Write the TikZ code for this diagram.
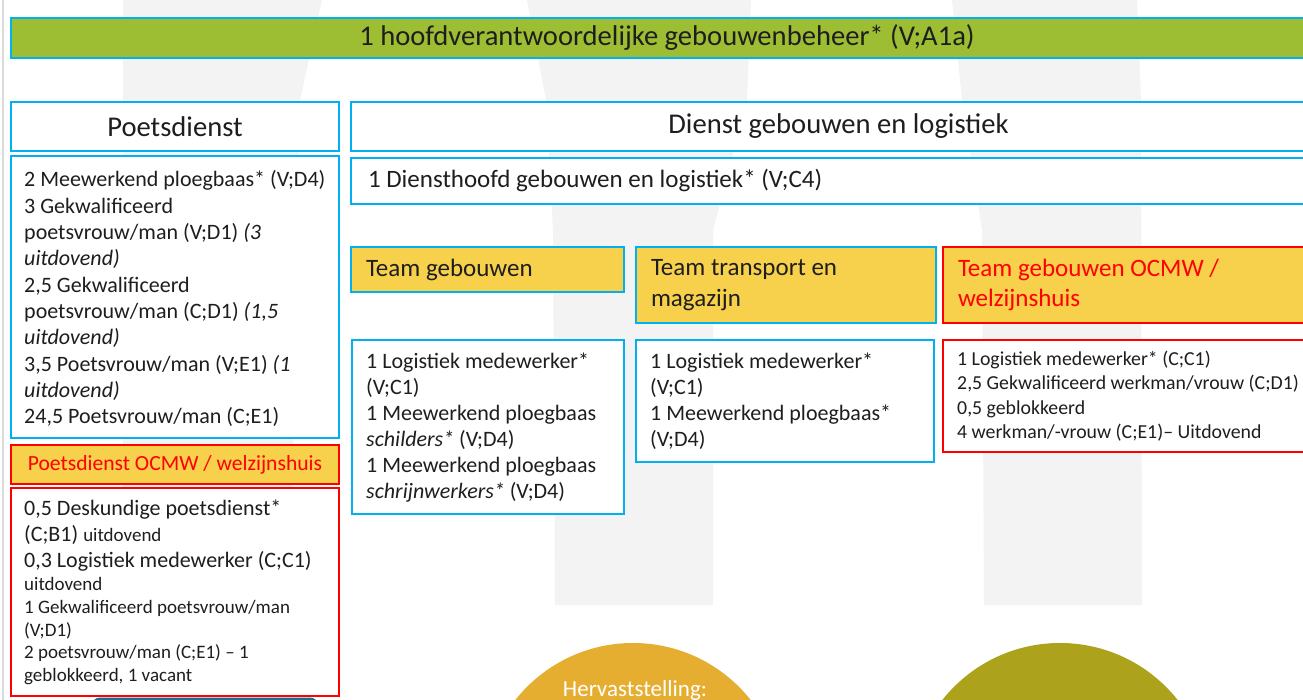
\documentclass[tikz,border=0pt]{standalone}
\usepackage{fontspec}
\setmainfont{Carlito}
\definecolor{cyanb}{HTML}{00B0F0}
\definecolor{barg}{HTML}{9DBD33}
\definecolor{yel}{HTML}{F7D04C}
\definecolor{redb}{HTML}{FF0000}
\definecolor{wm}{HTML}{F3F3F3}
\definecolor{edgeg}{HTML}{DADADA}
\definecolor{orc}{HTML}{E6AE31}
\definecolor{olc}{HTML}{ACA21C}
\definecolor{txt}{HTML}{1E1E1E}
\definecolor{tealb}{HTML}{1D6E8C}
\newcommand{\fsA}{\fontsize{22}{26.3}\selectfont}
\newcommand{\fsS}{\fontsize{19}{22.8}\selectfont}
\newcommand{\fsH}{\fontsize{25}{30.8}\selectfont}
\newcommand{\fsR}{\fontsize{19.8}{24}\selectfont}
\begin{document}
\begin{tikzpicture}[x=1pt,y=-1pt,
  base/.style={line width=2pt,inner sep=0pt,anchor=north west,text=txt},
  cbox/.style={base,draw=cyanb,fill=white},
  rbox/.style={base,draw=redb,fill=white},
  cyhead/.style={base,draw=cyanb,fill=yel},
  ryhead/.style={base,draw=redb,fill=yel,text=redb},
  lefthead/.style={align=flush left,inner xsep=15pt,inner ysep=0pt},
  tx/.style={inner sep=0pt,anchor=base west,align=flush left,text=txt},
  wmark/.style={fill=wm},
  blob/.style={circle,inner sep=0pt,minimum size=300}
]
\useasboundingbox (0,0) rectangle (1303,700);
\clip (0,0) rectangle (1303,700);
\fill[white] (0,0) rectangle (1303,700);
% watermark
\fill[wmark] (123,0) -- (322,0) -- (300,100) -- (290,610) -- (123,610) -- cycle;
\fill[wmark] (527,0) -- (751,0) -- (747,100) -- (713,230) -- (713,605) -- (555,605) -- (553,230) -- (546,100) -- cycle;
\fill[wmark] (952,0) -- (1137,0) -- (1141,100) -- (1142,605) -- (984,605) -- (982,230) -- (962,100) -- cycle;
\draw[edgeg,line width=1.5pt] (3,0) -- (3,700);
% bottom shapes
\fill[tealb,rounded corners=8pt] (92,697.5) rectangle (318,770);
\node[blob,fill=orc] (c1) at (633,793) {};
\node[blob,fill=olc] (c2) at (1060,793) {};
\node[font=\fontsize{23}{27}\selectfont,text=white,inner sep=0pt] (c1t) at (635,690) {Hervaststelling:};
% top bar
\node[base,draw=cyanb,fill=barg,minimum width=1312,minimum height=40,font=\fontsize{28.6}{34}\selectfont] (top) at (10,17) {1 hoofdverantwoordelijke gebouwenbeheer* (V;A1a)};
% left column
\node[cbox,minimum width=328,minimum height=49,font=\fontsize{28.6}{34}\selectfont] (ph) at (10,101) {Poetsdienst};
\node[cbox,minimum width=328,minimum height=282] (pc) at (10,155) {};
\node[tx,text width=312,font=\fsA] (pct) at (24,187) {2 Meewerkend ploegbaas* (V;D4)\\
3 Gekwalificeerd\\
poetsvrouw/man (V;D1) \textit{(3}\\
\textit{uitdovend)}\\
2,5 Gekwalificeerd\\
poetsvrouw/man (C;D1) \textit{(1,5}\\
\textit{uitdovend)}\\
3,5 Poetsvrouw/man (V;E1) \textit{(1}\\
\textit{uitdovend)}\\
24,5 Poetsvrouw/man (C;E1)\par};
\node[ryhead,minimum width=328,minimum height=39,font=\fontsize{21.6}{26}\selectfont] (oh) at (10,444) {Poetsdienst OCMW / welzijnshuis};
\node[rbox,minimum width=328,minimum height=208] (oc) at (10,487) {};
\node[tx,text width=312] (oct) at (24,515) {%
{\fsA 0,5 Deskundige poetsdienst*\par}%
{\fsA (C;B1) {\fsS uitdovend}\par}%
{\fsA 0,3 Logistiek medewerker (C;C1)\par}%
{\fsS uitdovend\par}%
{\fsS 1 Gekwalificeerd poetsvrouw/man\par}%
{\fsS (V;D1)\par}%
{\fsS 2 poetsvrouw/man (C;E1) – 1\par}%
{\fsS geblokkeerd, 1 vacant\par}};
% right part
\node[cbox,minimum width=975,minimum height=49,font=\fontsize{28.6}{34}\selectfont] (dh) at (350,101) {Dienst gebouwen en logistiek};
\node[cbox,lefthead,inner xsep=17pt,text width=941,minimum height=46,font=\fontsize{25}{30}\selectfont] (dhf) at (350,157) {1 Diensthoofd gebouwen en logistiek* (V;C4)};
\node[cyhead,lefthead,text width=243,minimum height=45,font=\fsH] (t1) at (350,246) {Team gebouwen};
\node[cyhead,lefthead,text width=270,minimum height=76,font=\fsH] (t2) at (635,246) {Team transport en\\magazijn};
\node[ryhead,lefthead,text width=353,minimum height=76,font=\fsH] (t3) at (942,246) {Team gebouwen OCMW /\\welzijnshuis};
\node[cbox,minimum width=272,minimum height=174] (b1) at (351,339) {};
\node[tx,text width=260,font=\fontsize{22}{26}\selectfont] (b1t) at (366,368) {1 Logistiek medewerker*\\
(V;C1)\\
1 Meewerkend ploegbaas\\
\textit{schilders*} (V;D4)\\
1 Meewerkend ploegbaas\\
\textit{schrijnwerkers*} (V;D4)\par};
\node[cbox,minimum width=298,minimum height=122] (b2) at (635,339) {};
\node[tx,text width=280,font=\fontsize{22}{26}\selectfont] (b2t) at (650,368) {1 Logistiek medewerker*\\
(V;C1)\\
1 Meewerkend ploegbaas*\\
(V;D4)\par};
\node[rbox,minimum width=383,minimum height=112] (b3) at (942,339) {};
\node[tx,text width=400,font=\fsR] (b3t) at (957,366) {1 Logistiek medewerker* (C;C1)\\
2,5 Gekwalificeerd werkman/vrouw (C;D1)\\
0,5 geblokkeerd\\
4 werkman/-vrouw (C;E1)– Uitdovend\par};
\end{tikzpicture}
\end{document}
